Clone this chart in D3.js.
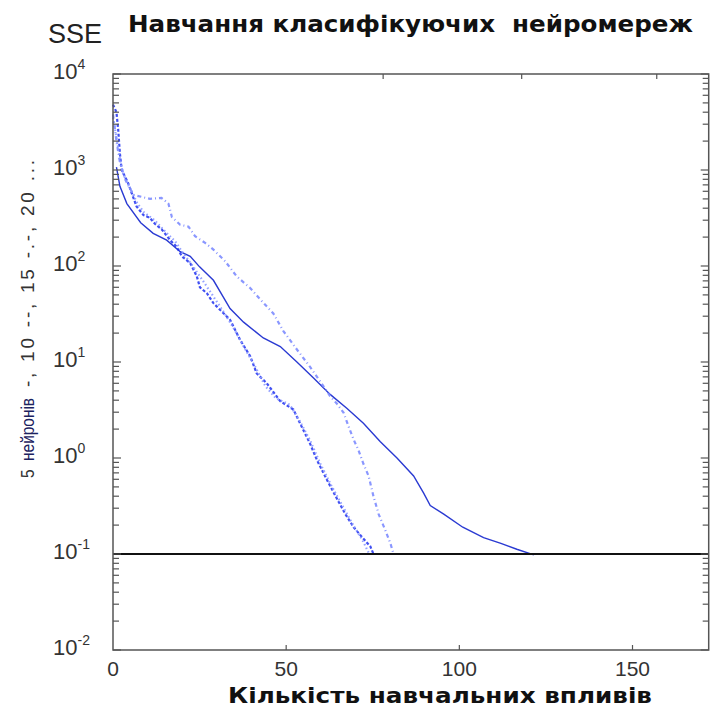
<!DOCTYPE html>
<html>
<head>
<meta charset="utf-8">
<script src="https://cdn.jsdelivr.net/npm/d3@7/dist/d3.min.js"></script>
<style>
  body { margin: 0; background: #fff; }
  svg { display: block; }
  text { white-space: pre; }
</style>
</head>
<body>
<svg id="chart" width="712" height="711"></svg>
<script>
// осі
const xTicks = [0, 50, 100, 150];
const xTopTicks = [78, 118, 157];
const yDecades = [-2, -1, 0, 1, 2, 3, 4];
const goal = 0.1;

// 5 нейронів  (-)
const x5 = [1, 2, 4, 8, 11.6, 15.5, 19.4, 22.3, 25, 29, 33.8, 37.7, 43.4, 48.3, 53.1, 57.9, 62.7, 67.5, 72.3, 77.2, 82, 86.8, 89.7, 91.6, 95.5, 101, 107, 112, 116.6, 121.5];
const sse5 = [1070, 676, 447, 282, 219, 186, 141, 126, 98, 71, 36, 26, 17.8, 14.5, 10, 6.8, 4.6, 3.3, 2.3, 1.48, 1.0, 0.65, 0.43, 0.32, 0.26, 0.19, 0.148, 0.129, 0.112, 0.098];

// 10 нейронів (--)
const x10 = [0, 1, 1.5, 2, 2.5, 3.5, 4.4, 5.4, 6.8, 8.8, 10.7, 12.1, 14.1, 16.5, 18.4, 19.9, 22.3, 24.2, 25.1, 27.1, 29, 33.8, 36.7, 39.6, 41.5, 44.4, 48.3, 52.1, 54, 56.9, 58.9, 61.8, 64.6, 67.1, 69.5, 71.9, 74.3, 75.2];
const sse10 = [4800, 4000, 2630, 1480, 1000, 850, 724, 575, 417, 339, 316, 275, 240, 186, 158, 126, 107, 78, 60, 52, 41, 27.5, 17, 11.5, 7.6, 6.0, 3.9, 3.2, 2.3, 1.41, 0.95, 0.59, 0.38, 0.26, 0.19, 0.15, 0.12, 0.1];

// 15 нейронів (-.-)
const x15 = [0, 1, 2, 3.5, 5.9, 10.7, 14, 16, 17, 19.4, 21.8, 23.7, 26.6, 29, 32.4, 35.7, 39.6, 42.5, 46.3, 49.2, 53.1, 56.9, 59.8, 62.7, 64.6, 66.6, 68, 69.5, 70.9, 72.3, 73.8, 75.2, 76.7, 78.6, 80.1, 81];
const sse15 = [3800, 2000, 1200, 800, 550, 500, 513, 447, 324, 269, 257, 204, 174, 148, 112, 78, 59, 45, 32, 21, 13.5, 8.9, 6.3, 4.4, 3.7, 2.95, 2.14, 1.55, 1.2, 0.87, 0.65, 0.4, 0.26, 0.178, 0.129, 0.1];

// 20 нейронів (...)
const x20 = [0, 1, 2, 3, 5, 7, 9, 12, 15, 18, 20, 23, 26, 29, 32, 35, 38, 41, 44, 47, 51, 54, 57, 60, 63, 66, 69, 72, 74];
const sse20 = [3500, 2200, 1300, 900, 640, 450, 360, 300, 230, 180, 140, 100, 70, 48, 33, 22, 14, 9, 5.6, 4.2, 3.6, 2.4, 1.5, 0.85, 0.52, 0.33, 0.21, 0.14, 0.1];

const series = [
  { xs: x5,  ys: sse5,  color: "#2a3ad2", width: 1.4, dash: null,      opacity: 1 },
  { xs: x10, ys: sse10, color: "#1f30f0", width: 2.2, dash: "3,2",     opacity: 0.85 },
  { xs: x15, ys: sse15, color: "#7d8cff", width: 2.2, dash: "4,3,1,3", opacity: 0.9 },
  { xs: x20, ys: sse20, color: "#8a98ff", width: 2.2, dash: "1.5,2.5", opacity: 0.9 }
];

const svg = d3.select("#chart");
svg.append("rect").attr("width", 712).attr("height", 711).attr("fill", "#fff");

const x = d3.scaleLinear().domain([0, 172]).range([113, 708.7]);
const y = d3.scaleLog().domain([1e-2, 1e4]).range([650, 74]);

// лінії навчання
const line = d3.line().x(d => x(d[0])).y(d => y(d[1]));
series.forEach(s => {
  svg.append("path")
    .datum(s.xs.map((v, i) => [v, s.ys[i]]))
    .attr("d", line)
    .attr("fill", "none")
    .attr("stroke", s.color)
    .attr("stroke-width", s.width)
    .attr("stroke-opacity", s.opacity)
    .attr("stroke-dasharray", s.dash);
});

// цільова похибка
svg.append("line")
  .attr("x1", x(0)).attr("x2", x(172))
  .attr("y1", y(goal)).attr("y2", y(goal))
  .attr("stroke", "#111").attr("stroke-width", 2);

// рамка
const axisColor = "#555";
svg.append("rect")
  .attr("x", x(0)).attr("y", y(1e4))
  .attr("width", x(172) - x(0)).attr("height", y(1e-2) - y(1e4))
  .attr("fill", "none").attr("stroke", axisColor).attr("stroke-width", 1.5);

// мінорні поділки по y
const minor = [];
yDecades.slice(0, -1).forEach(k => {
  for (let m = 1; m <= 9; m++) minor.push({ v: m * Math.pow(10, k), major: m === 1 });
});
minor.push({ v: 1e4, major: true });

const ticksG = svg.append("g").attr("stroke", axisColor).attr("stroke-width", 1.2);
minor.forEach(t => {
  const len = t.major ? 8 : 6;
  ticksG.append("line").attr("x1", x(0)).attr("x2", x(0) + len).attr("y1", y(t.v)).attr("y2", y(t.v));
  ticksG.append("line").attr("x1", x(172)).attr("x2", x(172) - len).attr("y1", y(t.v)).attr("y2", y(t.v));
});
xTicks.slice(1).forEach(v => {
  ticksG.append("line").attr("x1", x(v)).attr("x2", x(v)).attr("y1", y(1e-2)).attr("y2", y(1e-2) - 5);
});
xTopTicks.forEach(v => {
  ticksG.append("line").attr("x1", x(v)).attr("x2", x(v)).attr("y1", y(1e4)).attr("y2", y(1e4) + 5);
});

// підписи y
const yLab = svg.append("g")
  .attr("font-family", "Liberation Sans, Arial, sans-serif")
  .attr("fill", "#333");
yDecades.forEach(k => {
  const t = yLab.append("text").attr("x", 53).attr("y", y(Math.pow(10, k)) + 5).attr("font-size", 22);
  t.append("tspan").text("10");
  t.append("tspan").attr("font-size", 14).attr("dy", -10).text(String(k));
});

// підписи x
svg.append("g")
  .attr("font-family", "Liberation Sans, Arial, sans-serif")
  .attr("fill", "#333")
  .attr("font-size", 21)
  .attr("text-anchor", "middle")
  .selectAll("text")
  .data(xTicks)
  .join("text")
  .attr("x", d => x(d))
  .attr("y", 676)
  .text(d => d);

// заголовки
svg.append("text")
  .attr("x", 48).attr("y", 43)
  .attr("font-family", "Liberation Sans, Arial, sans-serif")
  .attr("font-size", 27).attr("fill", "#222")
  .text("SSE");

svg.append("text")
  .attr("x", 128).attr("y", 32)
  .attr("font-family", "DejaVu Sans, sans-serif")
  .attr("font-weight", "bold").attr("font-size", 23)
  .attr("textLength", 565).attr("lengthAdjust", "spacingAndGlyphs")
  .attr("fill", "#111")
  .text("Навчання класифікуючих  нейромереж");

svg.append("text")
  .attr("x", 228).attr("y", 703)
  .attr("font-family", "DejaVu Sans, sans-serif")
  .attr("font-weight", "bold").attr("font-size", 22)
  .attr("textLength", 424).attr("lengthAdjust", "spacingAndGlyphs")
  .attr("fill", "#111")
  .text("Кількість навчальних впливів");

// підпис осі y (повернутий)
const rot = svg.append("g")
  .attr("font-family", "Liberation Sans, Arial, sans-serif")
  .attr("font-size", 19)
  .attr("fill", "#333");
rot.append("text")
  .attr("transform", "translate(34,478) rotate(-90)")
  .attr("textLength", 80).attr("lengthAdjust", "spacingAndGlyphs")
  .text("5  ")
  .append("tspan").attr("fill", "#1c2260").text("нейронів");
rot.append("text")
  .attr("transform", "translate(34,387) rotate(-90)")
  .attr("textLength", 227).attr("lengthAdjust", "spacing")
  .text("-, 10 --, 15 -.-, 20 ...");
</script>
</body>
</html>
